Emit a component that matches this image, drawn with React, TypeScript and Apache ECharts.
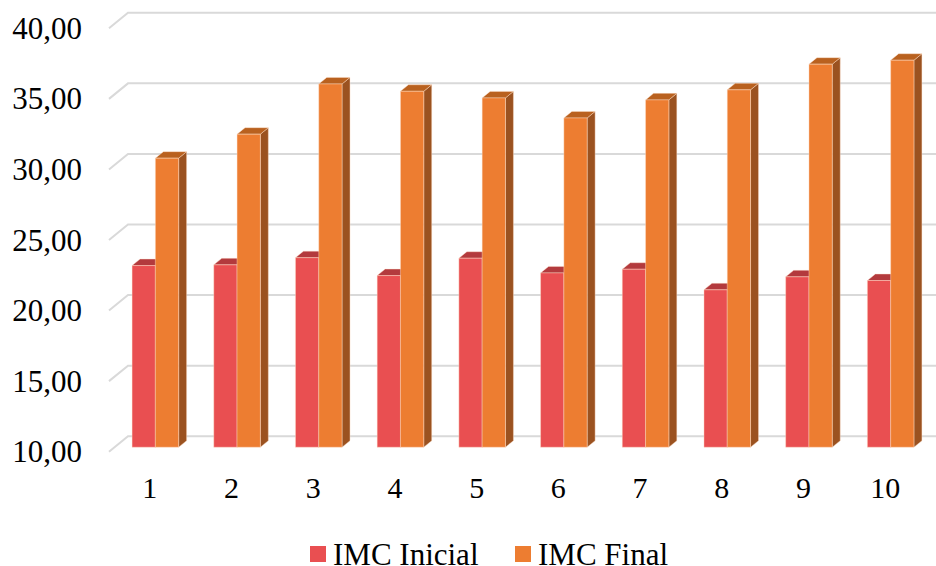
import React, { useEffect, useRef } from "react";
import * as echarts from "echarts";

// Sujeitos 1–10 e respectivos IMC (kg/m²)
const categories = ["1", "2", "3", "4", "5", "6", "7", "8", "9", "10"];
const imcInicial = [22.87, 22.92, 23.43, 22.16, 23.39, 22.35, 22.61, 21.15, 22.07, 21.81];
const imcFinal = [30.48, 32.18, 35.74, 35.22, 34.75, 33.33, 34.61, 35.32, 37.14, 37.42];
const yTicks = [10, 15, 20, 25, 30, 35, 40];
const seriesNames = ["IMC Inicial", "IMC Final"];

// depth of the 3D box (back wall offset from the front plane)
const DEPTH_X = 19;
const DEPTH_Y = -15.5;
// bars sit in the middle of the depth
const BAR_FRONT = 0.29;
const BAR_BACK = 0.71;
const BAR_FRAC = 0.285;

const faces = {
  inicial: { front: "#E94F51", top: "#B33A3D", side: "#A8363A" },
  final: { front: "#ED7D31", top: "#B9611F", side: "#9B5220" },
};

const FONT = "Liberation Serif";
const fmt = (v: number) => v.toFixed(2).replace(".", ",");

function barRenderer(side: "left" | "right", col: { front: string; top: string; side: string }) {
  return (params: any, api: any) => {
    const idx = api.value(0);
    const val = api.value(1);
    const band = api.size([1, 0])[0];
    const w = band * BAR_FRAC;
    const cx = api.coord([idx, val])[0] + DEPTH_X * BAR_FRONT;
    const yTop = api.coord([idx, val])[1] + DEPTH_Y * BAR_FRONT;
    const yBase = api.coord([idx, 10])[1] + DEPTH_Y * BAR_FRONT;
    const x0 = side === "left" ? cx - w : cx;
    const x1 = x0 + w;
    const dx = DEPTH_X * (BAR_BACK - BAR_FRONT);
    const dy = DEPTH_Y * (BAR_BACK - BAR_FRONT);
    const edge = { stroke: "rgba(255,225,205,0.7)", lineWidth: 0.6 };
    return {
      type: "group",
      children: [
        {
          type: "polygon",
          shape: { points: [[x1, yTop], [x1 + dx, yTop + dy], [x1 + dx, yBase + dy], [x1, yBase]] },
          style: { fill: col.side, ...edge },
        },
        {
          type: "polygon",
          shape: { points: [[x0, yTop], [x1, yTop], [x1 + dx, yTop + dy], [x0 + dx, yTop + dy]] },
          style: { fill: col.top, ...edge },
        },
        {
          type: "rect",
          shape: { x: x0, y: yTop, width: w, height: yBase - yTop },
          style: { fill: col.front, ...edge },
        },
      ],
    };
  };
}

// legend key: colour square followed by the series name
function legendItem(x: number, name: string, color: string) {
  return {
    type: "group",
    x,
    y: 546,
    children: [
      { type: "rect", shape: { x: 0, y: 0, width: 16, height: 16 }, style: { fill: color } },
      {
        type: "text",
        x: 23,
        y: 8,
        style: {
          text: name,
          fill: "#000",
          fontFamily: FONT,
          fontSize: 31,
          verticalAlign: "middle",
          align: "left",
        },
      },
    ],
  };
}

export default function App() {
  const ref = useRef<HTMLDivElement>(null);

  useEffect(() => {
    if (!ref.current) return;
    const chart = echarts.init(ref.current, null, { renderer: "svg" });

    chart.setOption({
      animation: false,
      backgroundColor: "#ffffff",
      textStyle: { fontFamily: FONT },
      grid: { left: 109, right: 10, top: 28.3, bottom: 114.3, containLabel: false },
      xAxis: {
        type: "category",
        data: categories,
        axisLine: { show: false },
        axisTick: { show: false },
        axisLabel: { color: "#000", fontSize: 30, fontFamily: FONT, margin: 21 },
        splitLine: { show: false },
      },
      yAxis: {
        type: "value",
        min: 10,
        max: 40,
        interval: 5,
        axisLine: { show: false },
        axisTick: { show: false },
        splitLine: { show: false },
        axisLabel: {
          color: "#000",
          fontSize: 31,
          fontFamily: FONT,
          margin: 27,
          formatter: (v: number) => fmt(v),
        },
      },
      graphic: [
        legendItem(310, seriesNames[0], faces.inicial.front),
        legendItem(515, seriesNames[1], faces.final.front),
      ],
      series: [
        {
          type: "custom",
          name: "grade",
          silent: true,
          data: yTicks.map((v) => [0, v]),
          encode: { x: 0, y: 1 },
          renderItem: (params: any, api: any) => {
            const cs = params.coordSys;
            const y = api.coord([0, api.value(1)])[1];
            return {
              type: "polyline",
              shape: {
                points: [
                  [cs.x, y],
                  [cs.x + DEPTH_X, y + DEPTH_Y],
                  [cs.x + cs.width + DEPTH_X + 40, y + DEPTH_Y],
                ],
              },
              style: { stroke: "#D9D9D9", lineWidth: 2, fill: "none" },
            };
          },
          z: 1,
        },
        {
          type: "custom",
          name: seriesNames[0],
          itemStyle: { color: faces.inicial.front },
          data: imcInicial.map((v, i) => [i, v]),
          encode: { x: 0, y: 1 },
          renderItem: barRenderer("left", faces.inicial),
          z: 2,
        },
        {
          type: "custom",
          name: seriesNames[1],
          itemStyle: { color: faces.final.front },
          data: imcFinal.map((v, i) => [i, v]),
          encode: { x: 0, y: 1 },
          renderItem: barRenderer("right", faces.final),
          z: 3,
        },
      ],
    });

    return () => chart.dispose();
  }, []);

  return <div ref={ref} style={{ width: 936, height: 566, position: "absolute", left: 0, top: 0 }} />;
}
